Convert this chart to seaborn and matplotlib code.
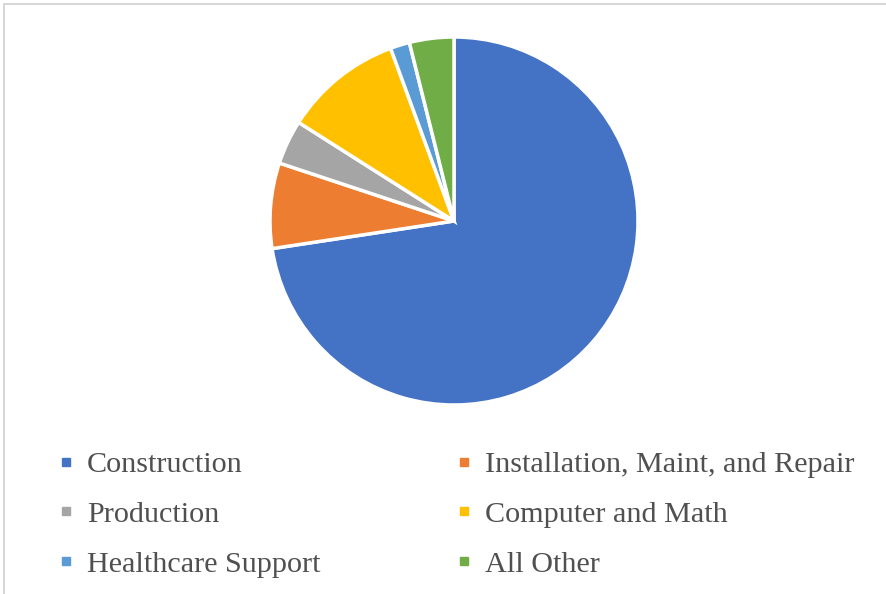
import matplotlib
matplotlib.use("Agg")
import matplotlib.pyplot as plt
from matplotlib.lines import Line2D
from matplotlib.patches import Rectangle
import seaborn as sns

# Share of employment by occupation group
categories = ["Construction", "Installation, Maint, and Repair", "Production",
              "Computer and Math", "Healthcare Support", "All Other"]
shares = [72.6, 7.5, 3.9, 10.4, 1.7, 3.9]
colors = ["#4472C4", "#ED7D31", "#A5A5A5", "#FFC000", "#5B9BD5", "#70AD47"]

sns.set_theme(style="white")
plt.rcParams["font.family"] = ["Liberation Serif", "DejaVu Serif"]

W, H = 887, 594
fig = plt.figure(figsize=(W / 100, H / 100), dpi=100)
fig.patch.set_facecolor("white")

# pie placed by pixel geometry: centre and radius
cx, cy, r = 454, 221, 184
ax = fig.add_axes([(cx - r) / W, (H - cy - r) / H, 2 * r / W, 2 * r / H])
palette = sns.color_palette(colors)
ax.pie(shares, colors=palette, startangle=90, counterclock=False,
       wedgeprops=dict(edgecolor="white", linewidth=2.5))
ax.set_xlim(-1, 1)
ax.set_ylim(-1, 1)
ax.set_aspect("equal")
ax.axis("off")

# legend in two columns, built from the same category/colour lists
text_color = "#505050"
def handle(c):
    return Line2D([], [], marker="s", linestyle="none", markersize=6,
                  markerfacecolor=c, markeredgecolor=c)

left_idx = [0, 2, 4]
right_idx = [1, 3, 5]
for idx, x in ((left_idx, 57), (right_idx, 455)):
    fig.legend([handle(palette[i]) for i in idx], [categories[i] for i in idx],
               loc="upper left", bbox_to_anchor=(x / W, 1 - 451 / H),
               frameon=False, fontsize=21.7, labelcolor=text_color,
               handlelength=0.6, handletextpad=0.4, labelspacing=0.75,
               borderaxespad=0, borderpad=0)

# thin chart border
fig.patches.append(Rectangle((4 / W, -0.1), 1.2, 1 - 4 / H + 0.1,
                             transform=fig.transFigure, fill=False,
                             edgecolor="#D0D0D0", linewidth=1.2))

fig.savefig("out.png", dpi=100, facecolor="white")
